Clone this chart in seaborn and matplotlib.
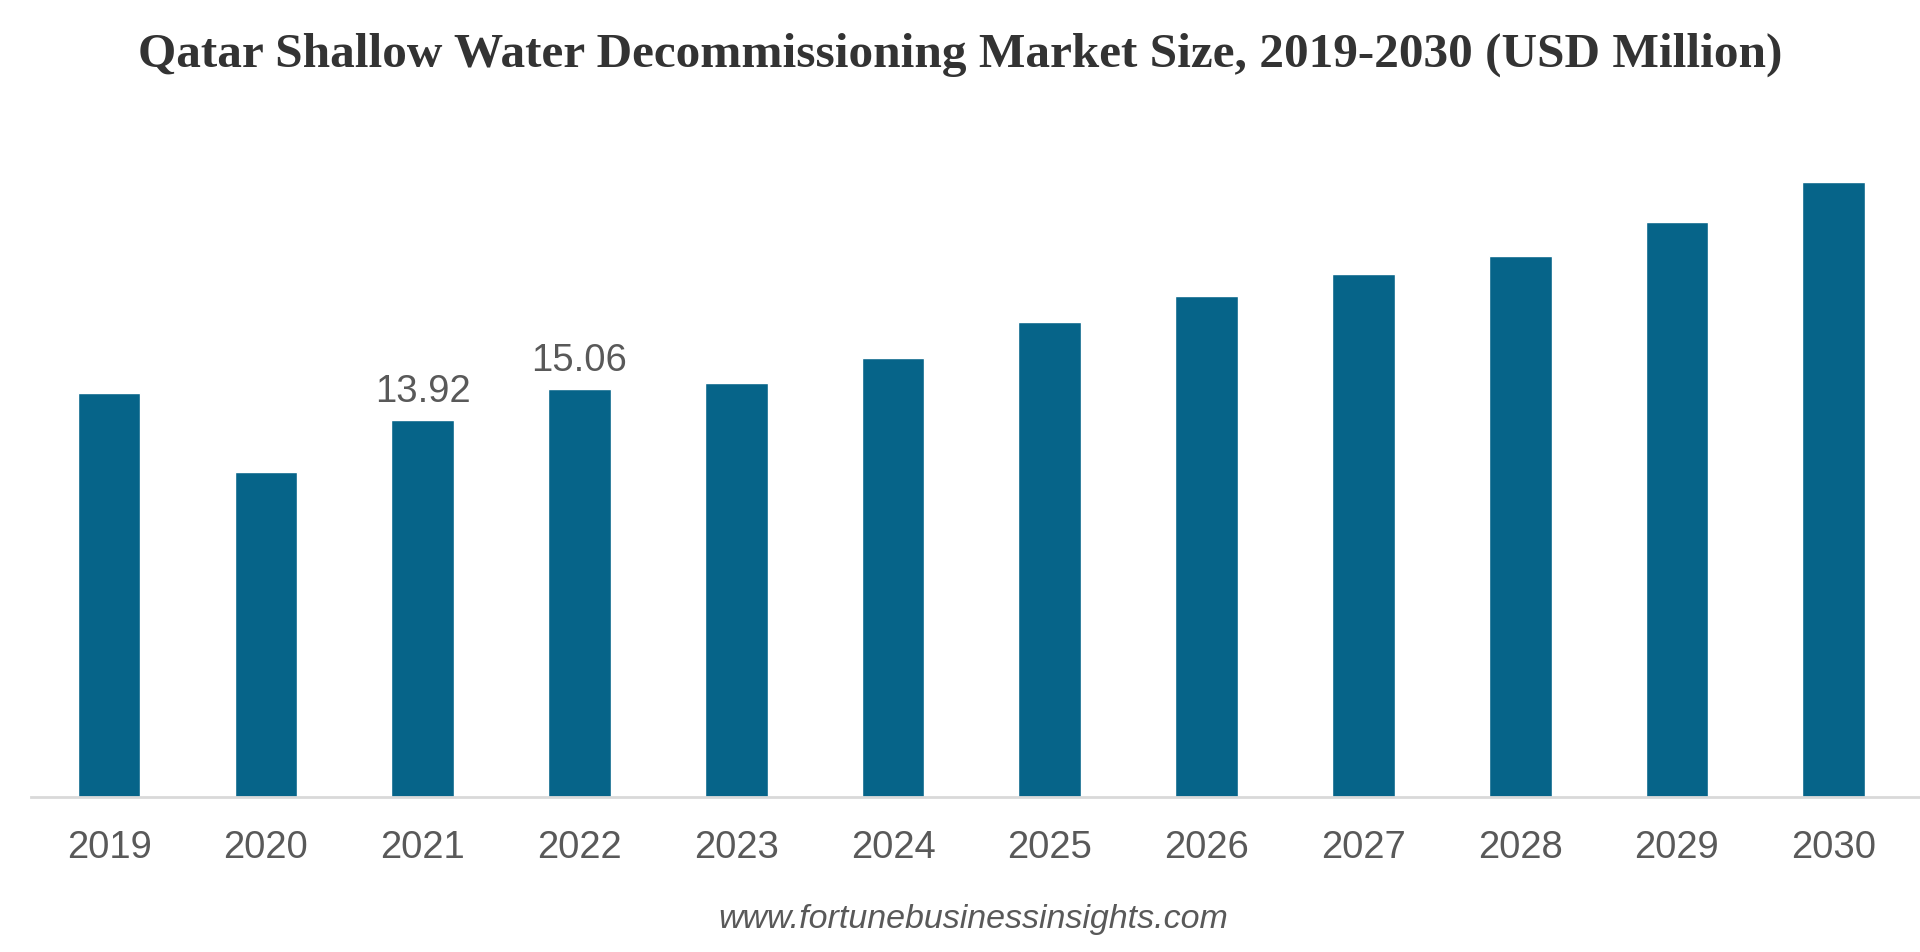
import numpy as np
import pandas as pd
import seaborn as sns
import matplotlib.pyplot as plt

# values (USD Million)
years = ["2019", "2020", "2021", "2022", "2023", "2024",
         "2025", "2026", "2027", "2028", "2029", "2030"]
market_size = [14.90, 11.98, 13.92, 15.06, 15.28, 16.19,
               17.52, 18.51, 19.31, 19.98, 21.22, 22.72]
labelled_years = ["2021", "2022"]

title = "Qatar Shallow Water Decommissioning Market Size, 2019-2030 (USD Million)"
source = "www.fortunebusinessinsights.com"

bar_color = "#066489"
text_gray = "#595959"

df = pd.DataFrame({"year": years, "size": market_size})

sns.set_theme(style="white")
plt.rcParams['font.family'] = ['Liberation Sans', 'DejaVu Sans']

fig = plt.figure(figsize=(19.2, 9.53), dpi=100)
ax = fig.add_axes([0.016, 0.163, 0.984, 0.710])

sns.barplot(data=df, x="year", y="size", color=bar_color, saturation=1,
            width=0.4, ax=ax)

ax.set_xlim(-0.5, 11.55)
ax.set_ylim(0, 25)
ax.set_xlabel("")
ax.set_ylabel("")
ax.set_yticks([])
for side in ["top", "left", "right"]:
    ax.spines[side].set_visible(False)
ax.spines["bottom"].set_color("#d9d9d9")
ax.spines["bottom"].set_linewidth(2)
ax.tick_params(axis="x", length=0, pad=23, labelsize=27.5, labelcolor=text_gray)

#value labels only on the two highlighted years
for i, (yr, v) in enumerate(zip(years, market_size)):
    if yr in labelled_years:
        ax.annotate(f"{v:.2f}", (i, v), xytext=(0, 8), textcoords="offset points",
                    ha="center", va="bottom", fontsize=27.5, color=text_gray)

fig.text(0.5, 0.942, title, ha="center", va="center", fontsize=35.5,
         fontweight="bold", family=["Liberation Serif", "DejaVu Serif"], color="#333333")
fig.text(0.507, 0.035, source, ha="center", va="center", fontsize=24.5,
         style="italic", color=text_gray)

fig.savefig("out.png", dpi=100)
